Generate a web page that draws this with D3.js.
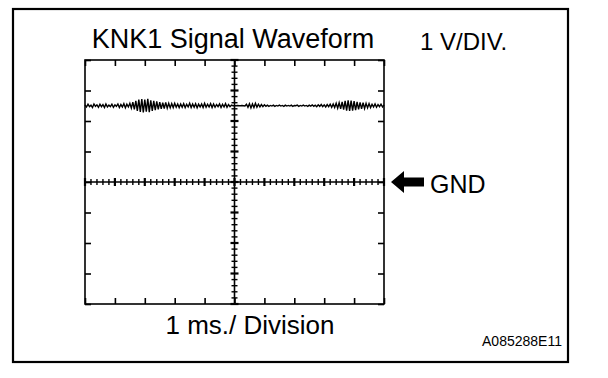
<!DOCTYPE html>
<html><head><meta charset="utf-8">
<script src="https://cdn.jsdelivr.net/npm/d3@7"></script>
<style>body{margin:0;background:#fff}svg{display:block}text{font-family:"Liberation Sans",Arial,sans-serif;fill:#000}</style>
</head><body><svg id="c" width="608" height="378"></svg>
<script>
// ---- data ----
const titleText = "KNK1 Signal Waveform";
const voltLabel = "1 V/DIV.";
const timeLabel = "1 ms./ Division";
const gndLabel = "GND";
const figCode = "A085288E11";
const timeTicks = [0,1,2,3,4,5,6,7,8,9,10];      // ms
const voltTicks = [-4,-3,-2,-1,0,1,2,3,4];        // V
const sampleStep = 0.05; // ms
const signalA = [2.53,2.46,2.55,2.47,2.52,2.44,2.56,2.48,2.53,2.45,2.55,2.47,2.54,2.44,2.56,2.46,2.52,2.47,2.55,2.45,2.53,2.48,2.56,2.44,2.54,2.46,2.57,2.43,2.55,2.46];
const signalB = [2.58,2.42,2.62,2.38,2.66,2.33,2.70,2.30,2.72,2.28,2.70,2.31,2.73,2.29,2.68,2.33,2.66,2.36,2.64,2.38,2.62,2.40,2.60,2.41,2.61,2.42,2.58,2.43,2.57,2.44,2.58,2.45,2.56,2.44];
const signalC = [2.56,2.45,2.57,2.44,2.55,2.46,2.58,2.44,2.56,2.45,2.57,2.43,2.55,2.46,2.56,2.44,2.58,2.45,2.55,2.46,2.57,2.44,2.56,2.45,2.54,2.47,2.56,2.44,2.55,2.46,2.57,2.45,2.54,2.47,2.52,2.50];
const signalD = [2.50,2.50,2.51,2.50,2.50,2.51,2.50,2.49];
const signalE = [2.55,2.45,2.57,2.43,2.56,2.44,2.58,2.45,2.55,2.46,2.54,2.47,2.53,2.48,2.52,2.48];
const signalF = [2.51,2.49,2.52,2.48,2.51,2.49,2.52,2.49,2.51,2.48,2.52,2.49,2.51,2.49,2.52,2.48,2.51,2.50,2.52,2.48,2.51,2.49,2.52,2.49,2.51,2.48,2.52,2.49,2.53,2.48,2.52,2.47,2.53,2.48,2.54,2.47,2.53,2.46,2.54,2.47];
const signalG = [2.55,2.45,2.56,2.44,2.58,2.42,2.60,2.40,2.63,2.37,2.66,2.34,2.68,2.33,2.67,2.34,2.65,2.36,2.63,2.38,2.61,2.40,2.60,2.41,2.58,2.43,2.57,2.44,2.55,2.46,2.56,2.45,2.54,2.47,2.55,2.46,2.53];

// ---- build ----
const signal = [].concat(signalA,signalB,signalC,signalD,signalE,signalF,signalG);
const series = signal.map((v,i)=>({t:i*sampleStep, v}));

const svg = d3.select("#c");
const L=85,R=384,T=60,B=304;
const x = d3.scaleLinear().domain([0,10]).range([L,R]);
const y = d3.scaleLinear().domain([-4,4]).range([B,T]);

// outer frame
svg.append("rect").attr("x",13).attr("y",9).attr("width",555).attr("height",353)
  .attr("fill","none").attr("stroke","#000").attr("stroke-width",2.2);

const g = svg.append("g");
// plot border
g.append("rect").attr("x",L).attr("y",T).attr("width",R-L).attr("height",B-T)
  .attr("fill","none").attr("stroke","#000").attr("stroke-width",1.6);

function styleAxis(sel){
  sel.select(".domain").remove();
  sel.selectAll("text").remove();
  sel.selectAll("line").attr("stroke","#000").attr("stroke-width",1.6);
}
// edge ticks, pointing inward
g.append("g").attr("transform",`translate(${L},0)`).call(d3.axisLeft(y).tickValues(voltTicks).tickSize(-6)).call(styleAxis);
g.append("g").attr("transform",`translate(${R},0)`).call(d3.axisRight(y).tickValues(voltTicks).tickSize(-6)).call(styleAxis);
g.append("g").attr("transform",`translate(0,${T})`).call(d3.axisTop(x).tickValues(timeTicks).tickSize(-6)).call(styleAxis);
g.append("g").attr("transform",`translate(0,${B})`).call(d3.axisBottom(x).tickValues(timeTicks).tickSize(-6)).call(styleAxis);

// center crosshair
const x0 = x(5), y0 = y(0);
g.append("line").attr("x1",L).attr("x2",R).attr("y1",y0).attr("y2",y0).attr("stroke","#000").attr("stroke-width",1.6);
g.append("line").attr("x1",x0).attr("x2",x0).attr("y1",T).attr("y2",B).attr("stroke","#000").attr("stroke-width",1.6);
const minorT = d3.range(0,10.001,0.2);
const minorV = d3.range(-4,4.001,0.2);
const isMajor = d => Math.abs(d-Math.round(d))<1e-6;
g.selectAll(".mt").data(minorT).join("line")
  .attr("x1",d=>x(d)).attr("x2",d=>x(d))
  .attr("y1",d=>y0-(isMajor(d)?4:3))
  .attr("y2",d=>y0+(isMajor(d)?4:3))
  .attr("stroke","#000").attr("stroke-width",d=>isMajor(d)?2.2:1.4);
g.selectAll(".mv").data(minorV).join("line")
  .attr("y1",d=>y(d)).attr("y2",d=>y(d))
  .attr("x1",d=>x0-(isMajor(d)?4:3))
  .attr("x2",d=>x0+(isMajor(d)?4:3))
  .attr("stroke","#000").attr("stroke-width",d=>isMajor(d)?2.2:1.4);

// waveform
g.append("path").datum(series)
  .attr("d",d3.line().x(d=>x(d.t)).y(d=>y(d.v)))
  .attr("fill","none").attr("stroke","#000").attr("stroke-width",1.4);

// texts
svg.append("text").attr("x",233).attr("y",48).attr("text-anchor","middle")
  .style("font-size","27px").text(titleText);
svg.append("text").attr("x",420).attr("y",50)
  .style("font-size","24px").text(voltLabel);
svg.append("text").attr("x",250).attr("y",334).attr("text-anchor","middle")
  .style("font-size","26px").text(timeLabel);
svg.append("text").attr("x",430).attr("y",193)
  .style("font-size","25px").text(gndLabel);
svg.append("text").attr("x",482).attr("y",346).attr("textLength",80).attr("lengthAdjust","spacingAndGlyphs")
  .style("font-size","14px").text(figCode);

// GND arrow
const ay = y(0);
svg.append("path")
  .attr("d",`M391,${ay} L404,${ay-11} L404,${ay-4.5} L424,${ay-4.5} L424,${ay+4.5} L404,${ay+4.5} L404,${ay+11} Z`)
  .attr("fill","#000");
</script></body></html>
